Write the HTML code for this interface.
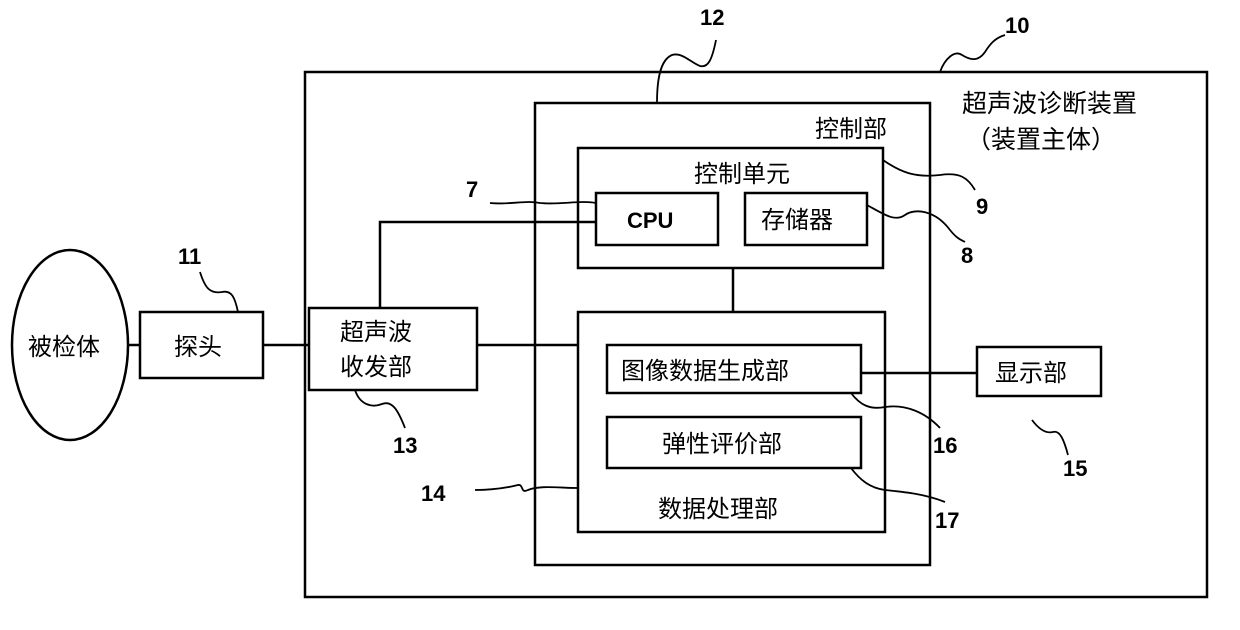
<!DOCTYPE html>
<html><head><meta charset="utf-8"><style>
html,body{margin:0;padding:0;background:#fff;}
svg text{font-family:"Liberation Sans","Noto Sans CJK SC",sans-serif;fill:#000;}
</style></head><body>
<svg width="1240" height="625" viewBox="0 0 1240 625" xmlns="http://www.w3.org/2000/svg">
<g fill="none" stroke="#000" stroke-width="2.5">
<rect x="305" y="72" width="902" height="525"/>
<rect x="535" y="103" width="395" height="462"/>
<rect x="578" y="148" width="305" height="120"/>
<rect x="596" y="193" width="122" height="52"/>
<rect x="745" y="193" width="122" height="52"/>
<rect x="578" y="312" width="307" height="220"/>
<rect x="607" y="345" width="254" height="48"/>
<rect x="607" y="417" width="254" height="51"/>
<rect x="309" y="308" width="168" height="82"/>
<rect x="140" y="312" width="123" height="66"/>
<ellipse cx="70" cy="345" rx="58" ry="95"/>
<rect x="977" y="347" width="124" height="49"/>
<line x1="128" y1="345" x2="140" y2="345"/>
<line x1="263" y1="345" x2="309" y2="345"/>
<line x1="477" y1="345" x2="578" y2="345"/>
<polyline points="380,308 380,222 596,222"/>
<line x1="733" y1="268" x2="733" y2="312"/>
<line x1="861" y1="373" x2="977" y2="373"/>
</g>
<g fill="none" stroke="#000" stroke-width="1.8">
<path d="M657 103 C657 80 660 60 672 55 C682 52 690 62 700 66 C708 68 712 60 716 40"/>
<path d="M940 72 C945 58 955 50 962 55 C970 60 978 62 985 52 C990 44 995 38 1005 35"/>
<path d="M883 160 C900 172 915 178 940 175 C960 172 968 178 975 190"/>
<path d="M867 205 C885 215 895 222 905 215 C915 208 935 210 950 230 C958 240 962 240 965 242"/>
<path d="M490 203 C510 205 525 200 540 203 C560 205 580 200 596 203"/>
<path d="M238 312 C235 298 232 290 222 292 C210 294 205 288 200 272"/>
<path d="M355 390 C360 405 372 408 382 404 C392 400 398 410 405 428"/>
<path d="M475 490 C495 490 510 487 518 485 C524 484 520 494 528 490 C540 485 560 488 578 488"/>
<path d="M851 393 C860 405 870 410 885 407 C905 404 925 412 940 428"/>
<path d="M851 468 C860 480 870 488 885 490 C905 492 925 494 945 502"/>
<path d="M1032 420 C1038 428 1045 434 1053 432 C1060 430 1064 440 1068 455"/>
</g>
<g font-size="22" font-weight="bold">
<text x="700" y="25">12</text>
<text x="1005" y="33">10</text>
<text x="976" y="214">9</text>
<text x="961" y="263">8</text>
<text x="466" y="197">7</text>
<text x="178" y="264">11</text>
<text x="393" y="453">13</text>
<text x="421" y="501">14</text>
<text x="933" y="453">16</text>
<text x="935" y="528">17</text>
<text x="1063" y="476">15</text>
</g>
<g font-size="24">
<text x="962" y="112" font-size="25">超声波诊断装置</text>
<text x="966" y="148" font-size="25">（装置主体）</text>
<text x="815" y="137">控制部</text>
<text x="694" y="182">控制单元</text>
<text x="627" y="228" font-weight="bold" font-size="22">CPU</text>
<text x="761" y="228">存储器</text>
<text x="28" y="355">被检体</text>
<text x="174" y="355">探头</text>
<text x="340" y="340">超声波</text>
<text x="340" y="375">收发部</text>
<text x="621" y="379">图像数据生成部</text>
<text x="662" y="452">弹性评价部</text>
<text x="658" y="517">数据处理部</text>
<text x="995" y="381">显示部</text>
</g>
</svg>
</body></html>
